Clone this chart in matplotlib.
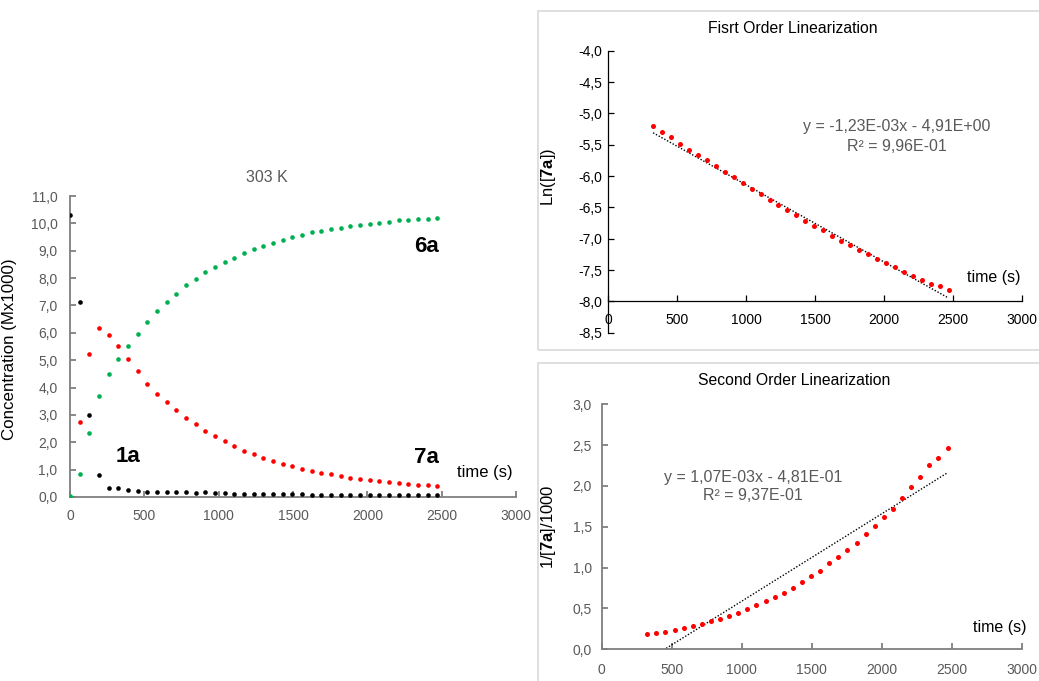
import matplotlib

matplotlib.use("Agg")
import matplotlib.pyplot as plt
import numpy as np
from matplotlib.patches import Rectangle
from matplotlib.ticker import FuncFormatter, MultipleLocator

# sampling times (s)
times = [0, 65, 130, 195, 260, 325, 390, 455, 520, 585, 650, 715, 780, 845,
         910, 975, 1040, 1105, 1170, 1235, 1300, 1365, 1430, 1495, 1560, 1625,
         1690, 1755, 1820, 1885, 1950, 2015, 2080, 2145, 2210, 2275, 2340,
         2405, 2470]

# concentrations (M x 1000)
conc_1a = [10.30, 7.13, 3.00, 0.79, 0.33, 0.33, 0.26, 0.22, 0.20, 0.20, 0.17,
           0.17, 0.17, 0.15, 0.17, 0.15, 0.15, 0.12, 0.12, 0.12, 0.12, 0.11,
           0.10, 0.10, 0.10, 0.09, 0.09, 0.09, 0.09, 0.08, 0.08, 0.08, 0.07,
           0.08, 0.07, 0.07, 0.07, 0.07, 0.06]
conc_6a = [0.04, 0.83, 2.34, 3.70, 4.48, 5.04, 5.52, 5.97, 6.41, 6.78, 7.13,
           7.43, 7.75, 7.97, 8.21, 8.40, 8.59, 8.75, 8.93, 9.05, 9.17, 9.27,
           9.40, 9.49, 9.59, 9.67, 9.72, 9.78, 9.84, 9.90, 9.93, 9.99, 10.02,
           10.05, 10.11, 10.13, 10.15, 10.17, 10.21]
# 7a starts at the second sample
conc_7a = [2.74, 5.24, 6.16, 5.91, 5.51, 5.04, 4.60, 4.14, 3.78, 3.46, 3.18,
           2.90, 2.66, 2.43, 2.22, 2.03, 1.86, 1.69, 1.57, 1.44, 1.33, 1.21,
           1.115, 1.04, 0.951, 0.883, 0.824, 0.765, 0.711, 0.664, 0.616,
           0.581, 0.540, 0.504, 0.473, 0.444, 0.428, 0.405]

# linearisations use 7a from t = 325 s on
fit_start = 325
first_slope, first_icpt = -1.23e-3, -4.91
second_slope, second_icpt = 1.07e-3, -0.481

RED = "#FF0000"
GREEN = "#00B050"
BLACK = "#000000"
GREY_TXT = "#595959"
GREY_AX = "#7F7F7F"

plt.rcParams.update({
    "font.family": ["Liberation Sans", "DejaVu Sans"],
    "mathtext.fontset": "custom",
    "mathtext.rm": "Liberation Sans",
    "mathtext.bf": "Liberation Sans:bold",
})

W, H = 1039, 681
fig = plt.figure(figsize=(W / 100, H / 100), dpi=100)


def px_axes(x0, y0, x1, y1):
    # pixel box (left, top, right, bottom) -> figure axes
    return fig.add_axes([x0 / W, 1 - y1 / H, (x1 - x0) / W, (y1 - y0) / H])


def comma(fmt):
    return FuncFormatter(lambda v, _: (fmt % v).replace(".", ","))


def style(ax, spine_col, lab_col, lw, xpad, ypad):
    for s in ("top", "right"):
        ax.spines[s].set_visible(False)
    for s in ("left", "bottom"):
        ax.spines[s].set_color(spine_col)
        ax.spines[s].set_linewidth(lw)
    ax.tick_params(direction="in", length=4, width=lw, color=spine_col,
                   labelcolor=lab_col, labelsize=10)
    ax.tick_params(axis="x", pad=xpad)
    ax.tick_params(axis="y", pad=ypad)
    ax.xaxis.set_major_locator(MultipleLocator(500))
    ax.xaxis.set_major_formatter(FuncFormatter(lambda v, _: "%d" % v))
    ax.set_xlim(0, 3000)
    ax.patch.set_alpha(0)


# ---- main kinetic plot ----
ax = px_axes(70, 196, 516, 497)
style(ax, GREY_AX, GREY_TXT, 1.3, 9, 9)
t = np.array(times)
ax.scatter(t, conc_1a, s=11, color=BLACK, lw=0, zorder=3)
ax.scatter(t[1:], conc_7a, s=11, color=RED, lw=0, zorder=3)
ax.scatter(t, conc_6a, s=11, color=GREEN, lw=0, zorder=4)
ax.set_ylim(0, 11)
ax.yaxis.set_major_locator(MultipleLocator(1))
ax.yaxis.set_major_formatter(comma("%.1f"))
ax.set_ylabel("Concentration (Mx1000)", fontsize=12.2, color=BLACK)
ax.yaxis.set_label_coords(-0.119, 0.49)
for s in ax.spines.values():
    s.set_clip_on(False)
ax.text(2399, 9.14, "6a", fontsize=16, fontweight="bold", ha="center", va="center")
ax.text(2399, 1.46, "7a", fontsize=16, fontweight="bold", ha="center", va="center")
ax.text(388, 1.49, "1a", fontsize=16, fontweight="bold", ha="center", va="center")
ax.text(2791, 0.91, "time (s)", fontsize=12, ha="center", va="center")
fig.text(267 / W, 1 - 177 / H, "303 K", fontsize=11.5, color=GREY_TXT,
         ha="center", va="center")

# chart frames on the right
for y0, y1 in ((10.7, 350), (363, 700)):
    fig.add_artist(Rectangle((538 / W, 1 - y1 / H), 600 / W, (y1 - y0) / H,
                             transform=fig.transFigure, fill=False,
                             edgecolor="#D9D9D9", lw=1.2))

t_fit = t[t >= fit_start]
c_fit = np.array(conc_7a)[t[1:] >= fit_start]
trend_x = np.array([t_fit[0], t_fit[-1]])

# ---- first order ----
ax1 = px_axes(608.3, 50.7, 1021.7, 332.7)
style(ax1, BLACK, BLACK, 0.9, 8.5, 4)
ax1.set_ylim(-8.5, -4.0)
ax1.spines["bottom"].set_position(("data", -8.0))
ax1.yaxis.set_major_locator(MultipleLocator(0.5))
ax1.yaxis.set_major_formatter(comma("%.1f"))
ax1.scatter(t_fit, np.log(c_fit / 1000), s=13, color=RED, lw=0, zorder=3)
ax1.plot(trend_x, first_slope * trend_x + first_icpt, color=BLACK,
         ls=(0, (1, 1.3)), lw=1)
ax1.set_ylabel(r"Ln([$\mathbf{7a}$])", fontsize=12)
ax1.yaxis.set_label_coords(-0.121, 0.553)
ax1.text(2093, -5.206, "y = -1,23E-03x - 4,91E+00", fontsize=11.5,
         color=GREY_TXT, ha="center", va="center")
ax1.text(2093, -5.524, "R² = 9,96E-01", fontsize=11.5, color=GREY_TXT,
         ha="center", va="center")
ax1.text(2799, -7.624, "time (s)", fontsize=11.5, ha="center", va="center")
fig.text(793 / W, 1 - 28.3 / H, "Fisrt Order Linearization", fontsize=11.3,
         ha="center", va="center")

# ---- second order ----
ax2 = px_axes(601.7, 404.3, 1021.7, 649.3)
style(ax2, GREY_AX, GREY_TXT, 1.3, 10, 7)
ax2.set_ylim(0, 3.0)
ax2.yaxis.set_major_locator(MultipleLocator(0.5))
ax2.yaxis.set_major_formatter(comma("%.1f"))
ax2.scatter(t_fit, 1 / c_fit, s=13, color=RED, lw=0, zorder=3)
ax2.plot(trend_x, second_slope * trend_x + second_icpt, color=BLACK,
         ls=(0, (1, 1.3)), lw=1)
ax2.set_ylabel(r"1/[$\mathbf{7a}$]/1000", fontsize=12)
ax2.yaxis.set_label_coords(-0.103, 0.50)
ax2.text(1083, 2.106, "y = 1,07E-03x - 4,81E-01", fontsize=11.5,
         color=GREY_TXT, ha="center", va="center")
ax2.text(1083, 1.889, "R² = 9,37E-01", fontsize=11.5, color=GREY_TXT,
         ha="center", va="center")
ax2.text(2840, 0.264, "time (s)", fontsize=11.5, ha="center", va="center")
fig.text(793.7 / W, 1 - 380.7 / H, "Second Order Linearization", fontsize=11.3,
         ha="center", va="center")

fig.savefig("out.png", dpi=100)
